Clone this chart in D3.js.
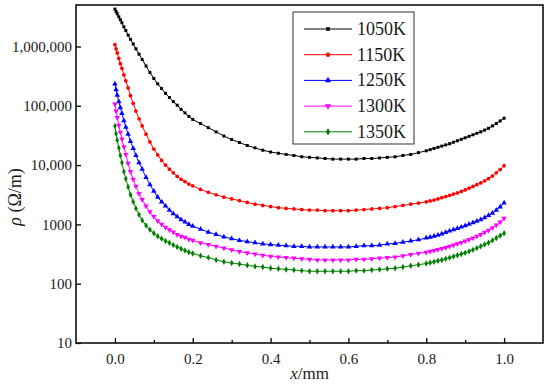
<!DOCTYPE html>
<html>
<head>
<meta charset="utf-8">
<title>rho vs x</title>
<style>
body { margin: 0; background: #fff; }
svg { font-family: "Liberation Serif", "Times New Roman", Times, serif; }
</style>
</head>
<body>
<div id="vis"></div>
<script src="https://d3js.org/d3.v7.min.js"></script>
<script>
// x positions (mm): denser near both faces, like the reference markers
var xs = [0, 0.003, 0.006, 0.01, 0.014, 0.018, 0.023, 0.028, 0.034, 0.04,
          0.047, 0.054, 0.062, 0.07, 0.08, 0.09, 0.10, 0.11, 0.12, 0.13,
          0.14, 0.15, 0.16, 0.17, 0.18, 0.19, 0.20,
          0.22, 0.24, 0.26, 0.28, 0.30, 0.32, 0.34, 0.36, 0.38, 0.40,
          0.42, 0.44, 0.46, 0.48, 0.50, 0.52, 0.54, 0.56, 0.58, 0.60,
          0.62, 0.64, 0.66, 0.68, 0.70, 0.72, 0.74, 0.76, 0.78,
          0.80, 0.81, 0.82, 0.83, 0.84, 0.85, 0.86, 0.87, 0.88, 0.89,
          0.90, 0.91, 0.92, 0.93, 0.94, 0.95, 0.96, 0.97, 0.98, 0.99, 1.00];

// resistivity (ohm/m)
var rho1050 = [4270000, 3890000, 3550000, 3160000, 2820000, 2510000, 2140000, 1860000, 1550000, 1320000,
               1100000, 912000, 741000, 603000, 468000, 363000, 288000, 234000, 195000, 162000,
               138000, 117500, 102300, 87100, 75900, 66100, 58900,
               50100, 42700, 36300, 30900, 26900, 24000, 21400, 19500, 17800, 16600,
               15800, 15100, 14500, 13800, 13500, 13200, 12900, 12600, 12600, 12600,
               12600, 12900, 12900, 13200, 13500, 13800, 14500, 15100, 16200,
               17400, 18200, 19100, 19950, 20900, 21900, 22900, 24300, 25700, 27200,
               28800, 30500, 32400, 34300, 36300, 38900, 41700, 45700, 50100, 55600, 61700];

var rho1150 = [1072000, 912000, 776000, 631000, 513000, 427000, 331000, 263000, 200000, 148000,
               110000, 81300, 60300, 45700, 33100, 24500, 18600, 14800, 12000, 10000,
               8510, 7410, 6460, 5750, 5250, 4790, 4470,
               3890, 3470, 3160, 2880, 2690, 2510, 2340, 2190, 2090, 2000,
               1910, 1860, 1820, 1780, 1740, 1740, 1700, 1700, 1700, 1700,
               1740, 1780, 1820, 1860, 1910, 2000, 2090, 2190, 2290,
               2400, 2480, 2570, 2690, 2820, 2950, 3090, 3240, 3390, 3590,
               3800, 4070, 4370, 4680, 5010, 5430, 5890, 6530, 7410, 8410, 9770];

var rho1250 = [234000, 186000, 151000, 117500, 93300, 74100, 56200, 43700, 33100, 25100,
               19100, 14500, 11000, 8510, 6170, 4680, 3630, 2880, 2400, 2040,
               1740, 1510, 1350, 1200, 1100, 1000, 933,
               832, 741, 676, 617, 575, 537, 513, 490, 468, 457,
               447, 437, 427, 427, 417, 417, 417, 417, 417, 417,
               427, 437, 437, 447, 468, 479, 501, 525, 550,
               589, 610, 631, 661, 692, 733, 776, 813, 851, 902,
               955, 1012, 1072, 1135, 1202, 1303, 1413, 1549, 1738, 1972, 2291];

var rho1300 = [107000, 81300, 63100, 46800, 35500, 27500, 20400, 15100, 10700, 7760,
               5750, 4370, 3310, 2630, 2040, 1620, 1350, 1150, 1000, 891,
               813, 741, 676, 631, 603, 562, 537,
               490, 457, 427, 398, 372, 347, 331, 316, 302, 288,
               282, 275, 269, 263, 257, 251, 251, 251, 251, 251,
               257, 257, 263, 269, 275, 282, 295, 309, 324,
               339, 351, 363, 376, 389, 407, 427, 447, 468, 495,
               525, 556, 589, 631, 676, 733, 794, 871, 977, 1096, 1259];

var rho1350 = [45700, 33900, 26300, 19500, 14500, 11000, 7760, 5890, 4270, 3160,
               2400, 1860, 1450, 1175, 955, 813, 708, 631, 575, 525,
               490, 447, 417, 389, 363, 339, 324,
               295, 275, 251, 234, 224, 214, 204, 195, 191, 182,
               178, 174, 170, 166, 162, 162, 162, 162, 162, 162,
               166, 166, 170, 174, 178, 182, 191, 200, 209,
               219, 226, 234, 243, 251, 263, 275, 288, 302, 316,
               331, 351, 372, 398, 427, 457, 490, 537, 589, 646, 708];

var seriesNames = ["1050K", "1150K", "1250K", "1300K", "1350K"];
var seriesValues = [rho1050, rho1150, rho1250, rho1300, rho1350];
var seriesColors = ["#000000", "#ff0000", "#0000ff", "#ff00ff", "#008000"];

var xTicks = [0.0, 0.2, 0.4, 0.6, 0.8, 1.0];
var xMinorTicks = [0.1, 0.3, 0.5, 0.7, 0.9];
var yTicks = [10, 100, 1000, 10000, 100000, 1000000];
var yTickLabels = ["10", "100", "1000", "10,000", "100,000", "1,000,000"];

var W = 550, H = 384;
var margin = {top: 5, right: 7, bottom: 41, left: 76},
    width = W - margin.left - margin.right,
    height = H - margin.top - margin.bottom;

var svg = d3.select("#vis").append("svg")
    .attr("width", W)
    .attr("height", H);

var g = svg.append("g")
    .attr("transform", "translate(" + margin.left + "," + margin.top + ")");

var x = d3.scaleLinear().domain([-0.1, 1.1]).range([0, width]);
var y = d3.scaleLog().domain([10, 5000000]).range([height, 0]);

// marker shapes: square, circle, up triangle, down triangle, diamond
var triDown = {
  draw: function(ctx, size) {
    var s = Math.sqrt(size / (Math.sqrt(3) / 4));
    var h = s * Math.sqrt(3) / 2;
    ctx.moveTo(-s / 2, -h / 3);
    ctx.lineTo(s / 2, -h / 3);
    ctx.lineTo(0, 2 * h / 3);
    ctx.closePath();
  }
};
var symbolTypes = [d3.symbolSquare, d3.symbolCircle, d3.symbolTriangle, triDown, d3.symbolDiamond];
var symbolSizes = [9, 11, 13, 13, 12];

var line = d3.line()
    .x(function(d) { return x(d.x); })
    .y(function(d) { return y(d.v); });

seriesValues.forEach(function(vals, i) {
  var pts = xs.map(function(xv, j) { return {x: xv, v: vals[j]}; });
  var sg = g.append("g").attr("class", "series");
  sg.append("path")
    .datum(pts)
    .attr("d", line)
    .attr("fill", "none")
    .attr("stroke", seriesColors[i])
    .attr("stroke-width", 1);
  sg.selectAll("path.pt")
    .data(pts)
    .enter().append("path")
    .attr("class", "pt")
    .attr("d", d3.symbol().type(symbolTypes[i]).size(symbolSizes[i]))
    .attr("transform", function(d) { return "translate(" + x(d.x) + "," + y(d.v) + ")"; })
    .attr("fill", seriesColors[i]);
});

// axes, ticks pointing inward
g.append("g")
    .attr("transform", "translate(0," + height + ")")
    .call(d3.axisBottom(x).tickValues(xTicks).tickSize(-5).tickPadding(10)
      .tickFormat(d3.format(".1f")));
g.append("g")
    .attr("transform", "translate(0," + height + ")")
    .call(d3.axisBottom(x).tickValues(xMinorTicks).tickSize(-3).tickFormat(""));

g.append("g")
    .call(d3.axisLeft(y).tickValues(yTicks).tickSize(-5).tickPadding(4)
      .tickFormat(function(d, i) { return yTickLabels[i]; }));

g.selectAll(".domain").remove();
g.selectAll(".tick line").attr("stroke", "#000").attr("stroke-width", 1.3);
g.selectAll(".tick text")
    .attr("fill", "#1a1a1a")
    .style("font-size", "15px")
    .style("font-family", '"Liberation Serif", "Times New Roman", serif');

// frame
g.append("rect")
    .attr("width", width)
    .attr("height", height)
    .attr("fill", "none")
    .attr("stroke", "#000")
    .attr("stroke-width", 1.5);

// axis titles
var xt = svg.append("text")
    .attr("x", margin.left + width / 2)
    .attr("y", 379)
    .attr("text-anchor", "middle")
    .style("font-size", "17px")
    .attr("fill", "#1a1a1a");
xt.append("tspan").style("font-style", "italic").text("x");
xt.append("tspan").text("/mm");

var yt = svg.append("text")
    .attr("transform", "translate(21,197) rotate(-90)")
    .attr("text-anchor", "middle")
    .style("font-size", "18px")
    .attr("fill", "#1a1a1a");
yt.append("tspan").style("font-style", "italic").text("ρ");
yt.append("tspan").text(" (Ω/m)");

// legend
var lg = svg.append("g").attr("transform", "translate(293,12)");
lg.append("rect")
    .attr("width", 121)
    .attr("height", 132)
    .attr("fill", "#fff")
    .attr("stroke", "#333")
    .attr("stroke-width", 1);

seriesNames.forEach(function(name, i) {
  var row = lg.append("g").attr("transform", "translate(0," + (17 + i * 25.7) + ")");
  row.append("line")
    .attr("x1", 11).attr("x2", 59)
    .attr("stroke", seriesColors[i])
    .attr("stroke-width", 1);
  row.append("path")
    .attr("d", d3.symbol().type(symbolTypes[i]).size(symbolSizes[i] + 4))
    .attr("transform", "translate(35,0)")
    .attr("fill", seriesColors[i]);
  row.append("text")
    .attr("x", 64)
    .attr("y", 6)
    .style("font-size", "18px")
    .attr("fill", "#1a1a1a")
    .text(name);
});
</script>
</body>
</html>
